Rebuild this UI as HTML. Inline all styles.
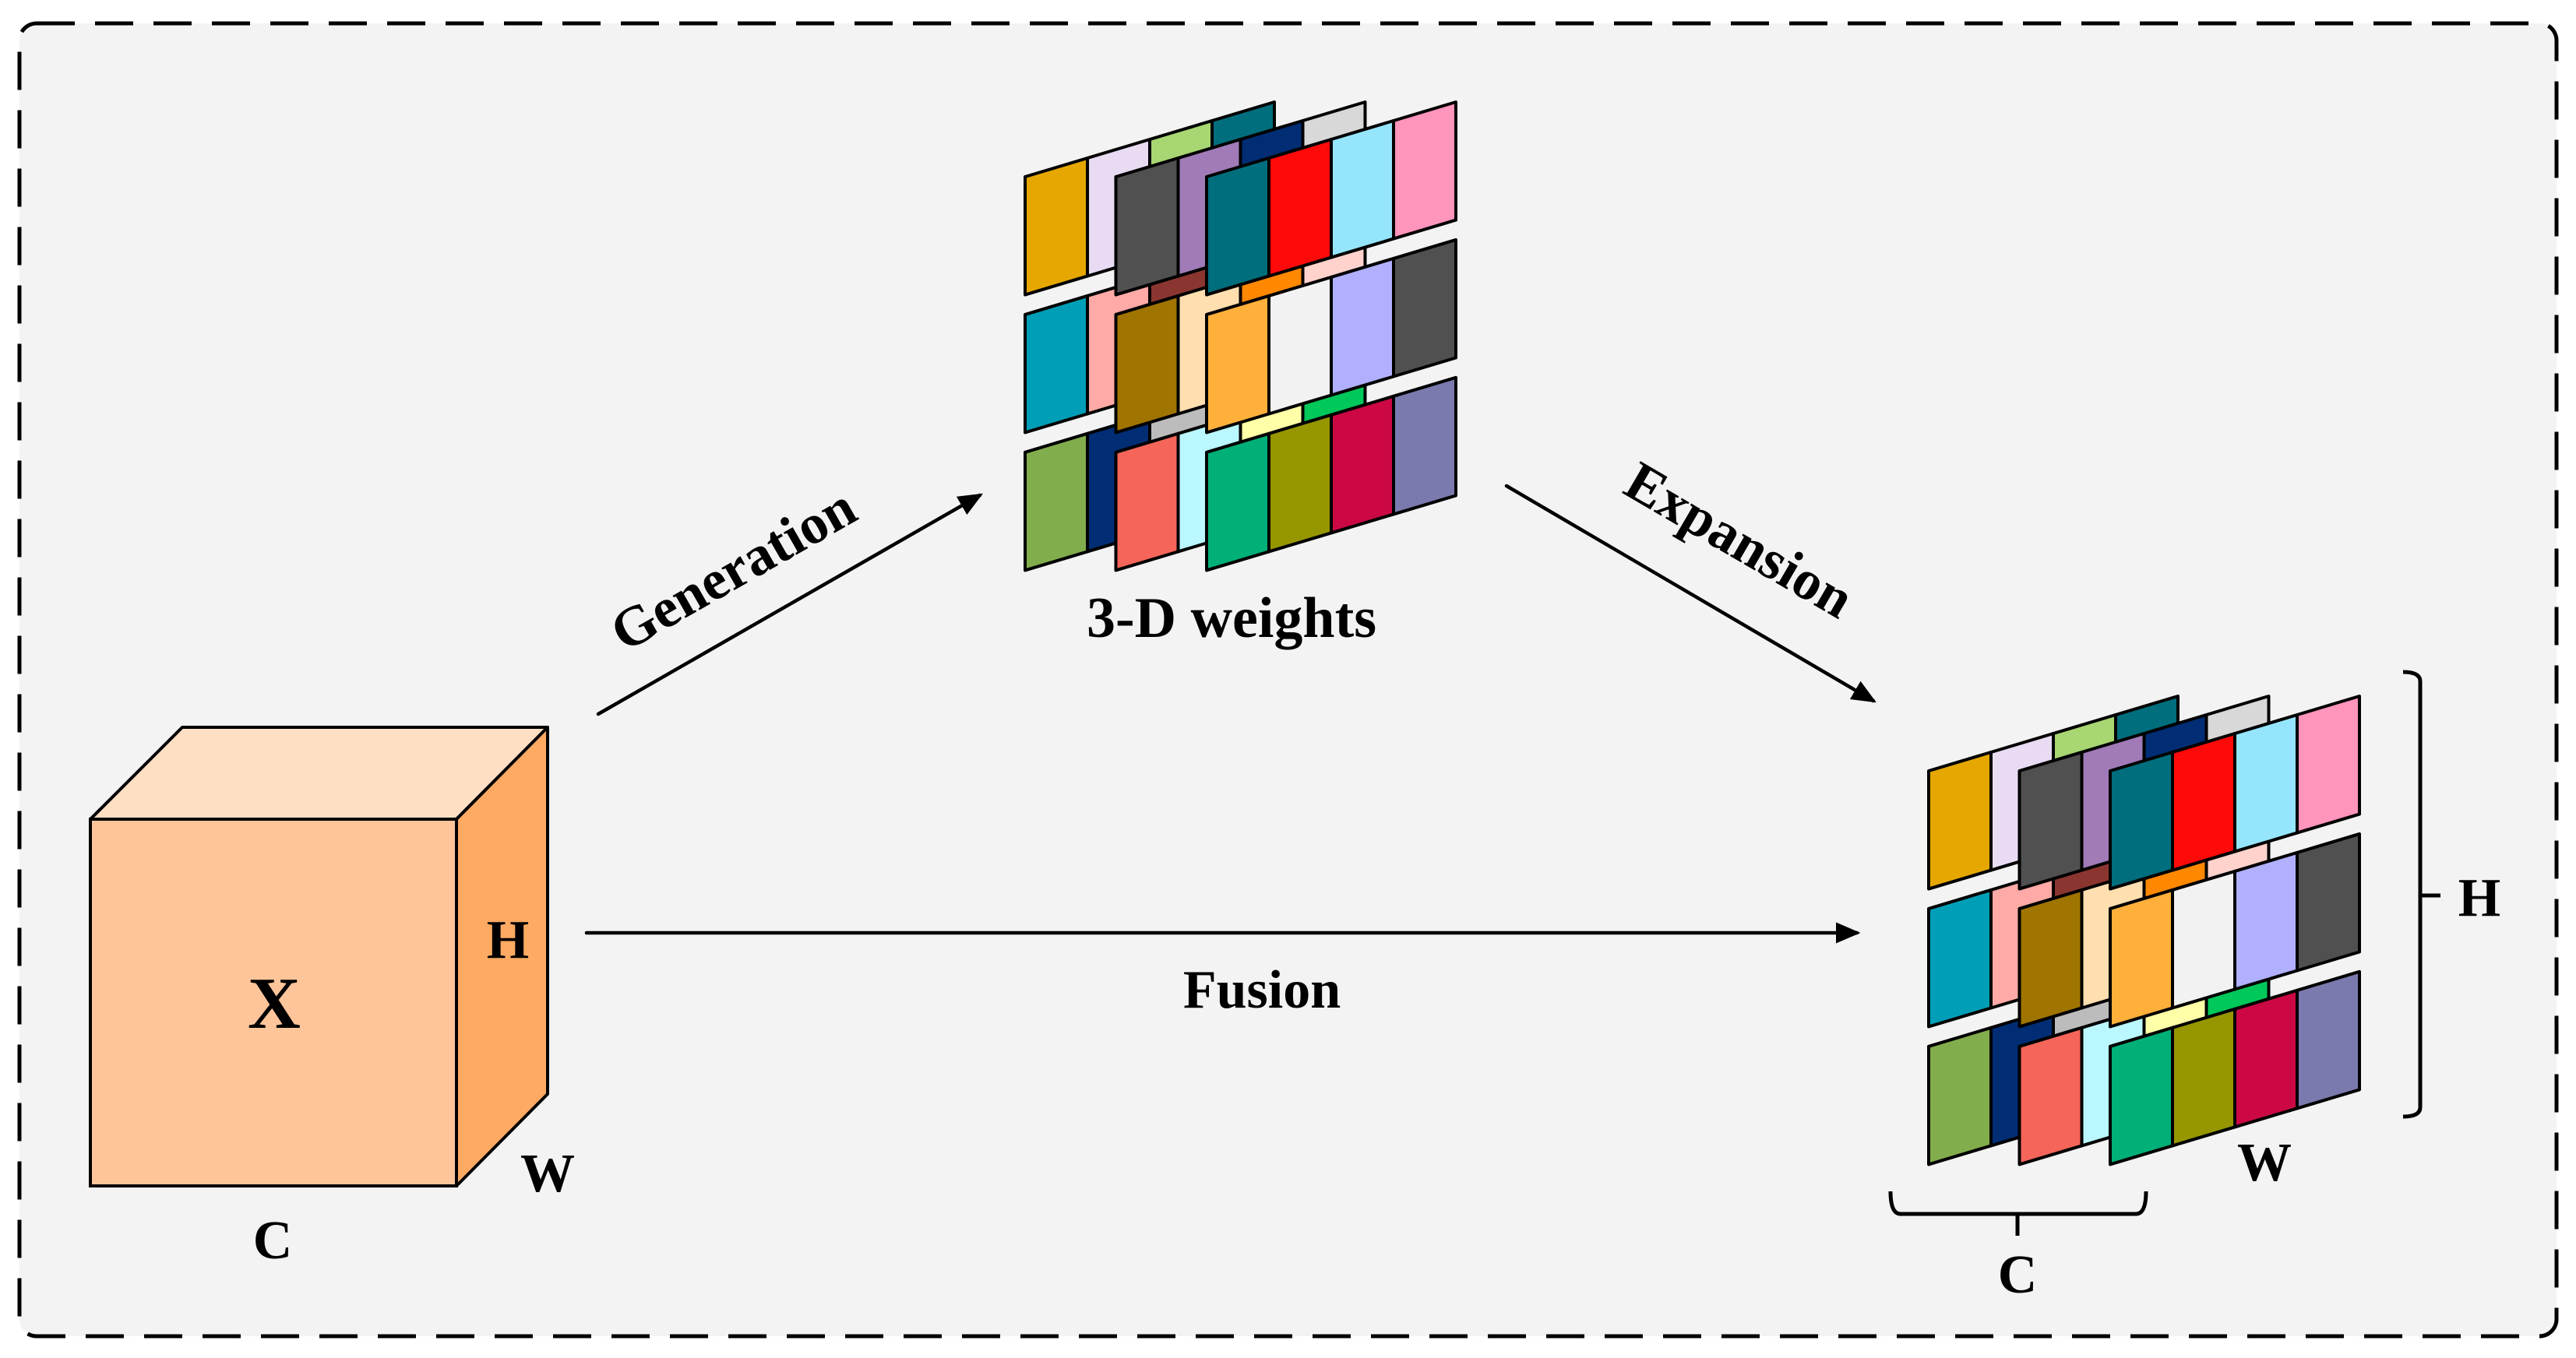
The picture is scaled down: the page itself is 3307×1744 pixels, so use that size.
<!DOCTYPE html>
<html><head><meta charset="utf-8">
<style>
html,body{margin:0;padding:0;background:#fff;}
svg{display:block;}
text{font-family:"Liberation Serif",serif;font-weight:bold;fill:#000;}
</style></head>
<body>
<svg id="s" width="3307" height="1744" viewBox="0 0 3307 1744" xmlns="http://www.w3.org/2000/svg">
<defs>
<marker id="ah" markerWidth="8" markerHeight="8" refX="6" refY="3" orient="auto" markerUnits="strokeWidth">
<path d="M0,0 L7,3 L0,6 Z" fill="#000"/>
</marker>
</defs>
<rect x="0" y="0" width="3307" height="1744" fill="#fff"/>
<rect x="25" y="30" width="3257" height="1686" rx="22" fill="#f3f3f3" stroke="#000" stroke-width="5" stroke-dasharray="49 26"/>

<!-- cube -->
<polygon points="116,1052 234,934 703,934 586,1052" fill="#ffdfc4" stroke="#000" stroke-width="4" stroke-linejoin="round"/>
<polygon points="586,1052 703,934 703,1405 586,1523" fill="#ffaa63" stroke="#000" stroke-width="4" stroke-linejoin="round"/>
<rect x="116" y="1052" width="470" height="471" fill="#ffc59a" stroke="#000" stroke-width="4"/>
<text x="352" y="1320" font-size="94" text-anchor="middle">X</text>
<text x="652" y="1230" font-size="70" text-anchor="middle">H</text>
<text x="703" y="1530" font-size="70" text-anchor="middle">W</text>
<text x="350" y="1616" font-size="70" text-anchor="middle">C</text>

<!-- arrows -->
<line x1="768" y1="917" x2="1258" y2="636" stroke="#000" stroke-width="4.5" stroke-linecap="round" marker-end="url(#ah)"/>
<line x1="1934" y1="624" x2="2405" y2="900" stroke="#000" stroke-width="4.5" stroke-linecap="round" marker-end="url(#ah)"/>
<line x1="753" y1="1198" x2="2384" y2="1198" stroke="#000" stroke-width="4.5" stroke-linecap="round" marker-end="url(#ah)"/>

<text x="0" y="0" font-size="72" text-anchor="middle" transform="translate(953,752) rotate(-29.7)">Generation</text>
<text x="0" y="0" font-size="72" text-anchor="middle" transform="translate(2221,714) rotate(30.3)">Expansion</text>
<text x="1620" y="1294" font-size="70" text-anchor="middle">Fusion</text>
<text x="1581" y="818" font-size="74" text-anchor="middle">3-D weights</text>

<g id="g1"></g>
<g id="g2"></g>

<!-- brackets -->
<path d="M3085,863 Q3107,863 3107,875 L3107,1422 Q3107,1434 3085,1434" fill="none" stroke="#000" stroke-width="5"/>
<line x1="3107" y1="1150" x2="3133" y2="1150" stroke="#000" stroke-width="5"/>
<text x="3183" y="1176" font-size="70" text-anchor="middle">H</text>
<path d="M2427,1530 Q2427,1559 2440,1559 L2742,1559 Q2755,1559 2755,1530" fill="none" stroke="#000" stroke-width="5"/>
<line x1="2590" y1="1559" x2="2590" y2="1587" stroke="#000" stroke-width="5"/>
<text x="2590" y="1660" font-size="70" text-anchor="middle">C</text>
<text x="2907" y="1516" font-size="70" text-anchor="middle">W</text>
</svg>
<script>
var cols={
A:[["#e6a800","#e8dbf2","#a8d672","#006e7c"],["#009fb7","#ffaaa6","#8b3530","#ffdfb0"],["#82ad4c","#002d74","#bcbcbc","#baf7ff"]],
B:[["#505050","#a07bb8","#002d74","#d8d8d8"],["#a07400","#ffdfb0","#ff8800","#ffd2cc"],["#f5655a","#baf7ff","#ffffa8","#00c85a"]],
C:[["#006e7c","#ff0a0a","#95e6fc","#ff94bc"],["#ffb03a","#f2f2f2","#b0b0ff","#505050"],["#00b078","#969600","#cc0844","#7a7aae"]]
};
function draw(id,ox,oy){
  var g=document.getElementById(id),h="";
  var W=80,H=151.6,R=24,P=176.9,LS=116.5;
  ["A","B","C"].forEach(function(L,li){
    for(var r=0;r<3;r++)for(var c=0;c<4;c++){
      var x0=ox+li*LS+c*W,y0=oy+r*P-c*R;
      h+='<polygon points="'+x0+','+y0+' '+(x0+W)+','+(y0-R)+' '+(x0+W)+','+(y0-R+H)+' '+x0+','+(y0+H)+'" fill="'+cols[L][r][c]+'" stroke="#000" stroke-width="4" stroke-linejoin="round"/>';
    }
  });
  g.innerHTML=h;
}
draw("g1",1316,227);
draw("g2",2476,990);
</script>
</body></html>
